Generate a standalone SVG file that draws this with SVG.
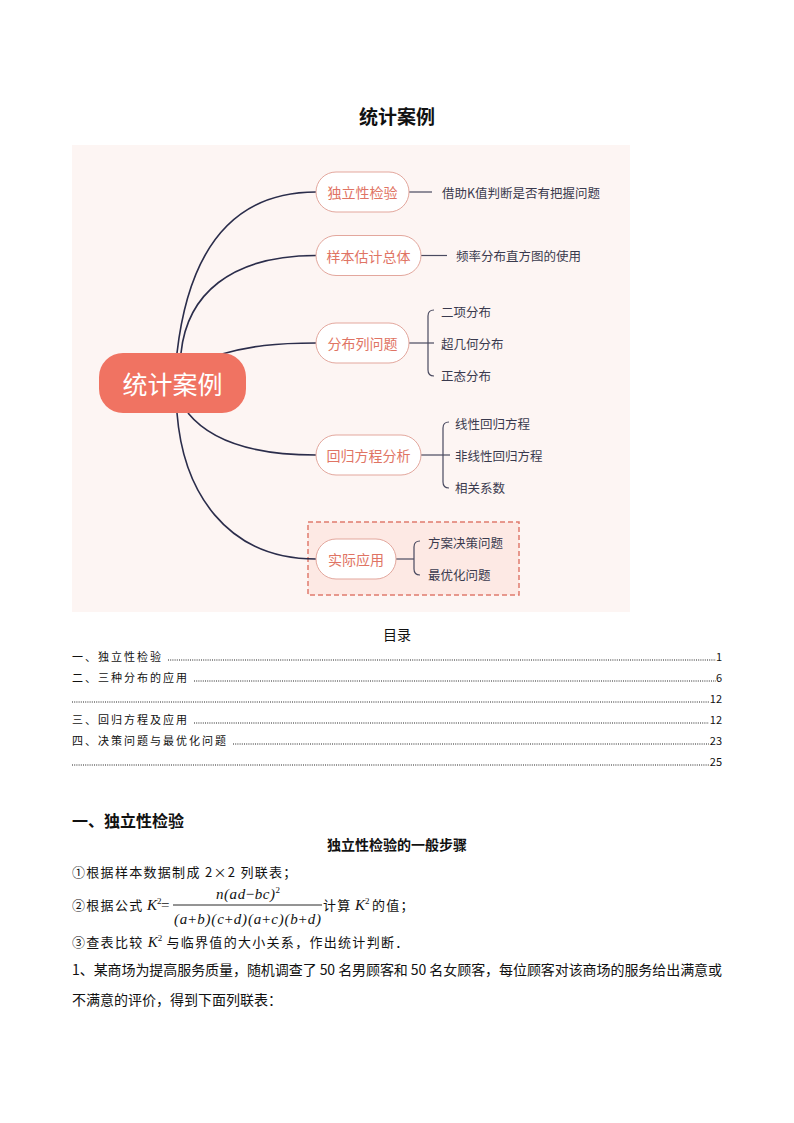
<svg xmlns="http://www.w3.org/2000/svg" width="794" height="1123" viewBox="0 0 794 1123">
<style>
.cjk{font-family:"Noto Sans CJK SC","Noto Sans",sans-serif;}
.node rect{fill:#ffffff;stroke:#e3a79d;stroke-width:1;}
.node text{font-family:"Noto Sans CJK SC",sans-serif;font-size:14px;fill:#df7464;text-anchor:middle;dominant-baseline:central;}
.leaf{font-family:"Noto Sans CJK SC",sans-serif;font-size:12.5px;fill:#3a3a4e;dominant-baseline:central;}
.conn path,.conn line{fill:none;stroke:#2b2d4b;stroke-width:1.6;}
.sub path,.sub line{fill:none;stroke:#4a4a60;stroke-width:1.2;}
.toc{font-family:"Noto Sans CJK SC",sans-serif;font-size:11px;fill:#111;letter-spacing:2px;}
.num{font-family:"Noto Sans CJK SC",sans-serif;font-size:11px;fill:#111;text-anchor:end;}
.dots{stroke:#222;stroke-width:1;stroke-dasharray:1 1.2;}
.body{font-family:"Noto Sans CJK SC",sans-serif;font-size:13px;fill:#111;letter-spacing:1.3px;}
.it{font-family:"Liberation Serif",serif;font-style:italic;}
.txt{font-family:"Noto Sans CJK SC",sans-serif;font-size:14px;fill:#111;}
</style>

<text x="397" y="124" class="cjk" font-size="19" font-weight="bold" text-anchor="middle" fill="#111">统计案例</text>

<g id="mindmap">
<rect x="72" y="145" width="558" height="467" fill="#fdf5f3"/>
<rect id="dashbox" x="308" y="522" width="211" height="73" fill="#fde9e4" stroke="#df7b6d" stroke-width="1.5" stroke-dasharray="5 3"/>

<g class="conn" id="connectors">
<path d="M177,353 C190,240 240,192 316,192"/>
<path d="M181,353 C187,295 230,255.5 316,255.5"/>
<path d="M222,354 C250,346 275,343 316,343"/>
<path d="M188,413 C210,440 250,455 316,455"/>
<path d="M177,413 C183,490 225,559 316,559"/>
</g>

<g class="sub" id="subconnectors">
<line x1="409" y1="192" x2="432" y2="192"/>
<line x1="421" y1="255.5" x2="447" y2="255.5"/>
<line x1="409" y1="343" x2="434" y2="343"/>
<path d="M434,310 Q428,310 428,316 L428,370 Q428,376 434,376"/>
<line x1="421" y1="455" x2="450" y2="455"/>
<path d="M449,422 Q443,422 443,428 L443,482 Q443,488 449,488"/>
<line x1="396" y1="559" x2="414" y2="559"/>
<path d="M420,541 Q414,541 414,547 L414,569 Q414,575 420,575"/>
</g>

<g id="root">
<rect x="99" y="353" width="147" height="60" rx="24" fill="#f07362"/>
<text x="172.5" y="383" font-family="Noto Sans CJK SC,sans-serif" font-size="25" fill="#ffffff" text-anchor="middle" dominant-baseline="central">统计案例</text>
</g>

<g id="n1" class="node"><rect x="316" y="172" width="93" height="40" rx="20"/><text x="362.5" y="192">独立性检验</text></g>
<g id="n2" class="node"><rect x="316" y="235.5" width="105" height="40" rx="20"/><text x="368.5" y="255.5">样本估计总体</text></g>
<g id="n3" class="node"><rect x="316" y="323" width="93" height="40" rx="20"/><text x="362.5" y="343">分布列问题</text></g>
<g id="n4" class="node"><rect x="316" y="435" width="105" height="40" rx="20"/><text x="368.5" y="455">回归方程分析</text></g>
<g id="n5" class="node"><rect x="316" y="539" width="80" height="40" rx="20"/><text x="356" y="559">实际应用</text></g>

<g id="leaves">
<text class="leaf" x="442" y="192">借助K值判断是否有把握问题</text>
<text class="leaf" x="456" y="255.5">频率分布直方图的使用</text>
<text class="leaf" x="441" y="311">二项分布</text>
<text class="leaf" x="441" y="343">超几何分布</text>
<text class="leaf" x="441" y="375">正态分布</text>
<text class="leaf" x="455" y="423">线性回归方程</text>
<text class="leaf" x="455" y="455">非线性回归方程</text>
<text class="leaf" x="455" y="487">相关系数</text>
<text class="leaf" x="428" y="542">方案决策问题</text>
<text class="leaf" x="428" y="574">最优化问题</text>
</g>
</g>

<g id="toc">
<text x="397" y="640" class="cjk" font-size="14" text-anchor="middle" fill="#111">目录</text>
<text class="toc" x="72" y="661">一、独立性检验</text>
<line class="dots" x1="168" y1="660" x2="716" y2="660"/>
<text class="num" x="722" y="661">1</text>
<text class="toc" x="72" y="682">二、三种分布的应用</text>
<line class="dots" x1="194" y1="681" x2="716" y2="681"/>
<text class="num" x="722" y="682">6</text>
<line class="dots" x1="72" y1="702" x2="709" y2="702"/>
<text class="num" x="722" y="703">12</text>
<text class="toc" x="72" y="724">三、回归方程及应用</text>
<line class="dots" x1="194" y1="723" x2="709" y2="723"/>
<text class="num" x="722" y="724">12</text>
<text class="toc" x="72" y="745">四、决策问题与最优化问题</text>
<line class="dots" x1="233" y1="744" x2="709" y2="744"/>
<text class="num" x="722" y="745">23</text>
<line class="dots" x1="72" y1="765" x2="709" y2="765"/>
<text class="num" x="722" y="766">25</text>
</g>

<g id="section1">
<text x="72" y="827" class="cjk" font-size="16" font-weight="bold" fill="#111">一、独立性检验</text>
<text x="397" y="850" class="cjk" font-size="14" font-weight="bold" text-anchor="middle" fill="#111">独立性检验的一般步骤</text>
<text class="body" x="72" y="877">①根据样本数据制成 2×2 列联表；</text>
<text class="body" x="72" y="910">②根据公式</text>
<text x="147" y="910" class="it" font-size="15" fill="#111">K</text>
<text x="157" y="904" font-family="Liberation Serif,serif" font-size="9" fill="#111">2</text>
<text x="161" y="910" font-family="Liberation Serif,serif" font-size="15" fill="#111">=</text>
<line x1="173" y1="905" x2="322" y2="905" stroke="#111" stroke-width="0.9"/>
<text x="216" y="899" class="it" font-size="15" fill="#111" textLength="64" lengthAdjust="spacing">n(ad<tspan font-style="normal">−</tspan>bc)<tspan font-style="normal" font-size="9" dy="-6">2</tspan></text>
<text x="174" y="924" class="it" font-size="15" fill="#111" textLength="147" lengthAdjust="spacing">(a<tspan font-style="normal">+</tspan>b)(c<tspan font-style="normal">+</tspan>d)(a<tspan font-style="normal">+</tspan>c)(b<tspan font-style="normal">+</tspan>d)</text>
<text class="body" x="323" y="910">计算 </text>
<text x="355" y="910" class="it" font-size="15" fill="#111">K</text>
<text x="365" y="904" font-family="Liberation Serif,serif" font-size="9" fill="#111">2</text>
<text class="body" x="372" y="910">的值；</text>
<text class="body" x="72" y="947">③查表比较 <tspan class="it" font-size="15" letter-spacing="0">K</tspan><tspan font-family="Liberation Serif,serif" font-size="9" dy="-6" letter-spacing="0">2</tspan><tspan dy="6"> 与临界值的大小关系，作出统计判断．</tspan></text>
<text class="txt" x="72" y="975" textLength="650" lengthAdjust="spacing">1、某商场为提高服务质量，随机调查了 50 名男顾客和 50 名女顾客，每位顾客对该商场的服务给出满意或</text>
<text class="txt" x="72" y="1005">不满意的评价，得到下面列联表：</text>
</g>
</svg>
